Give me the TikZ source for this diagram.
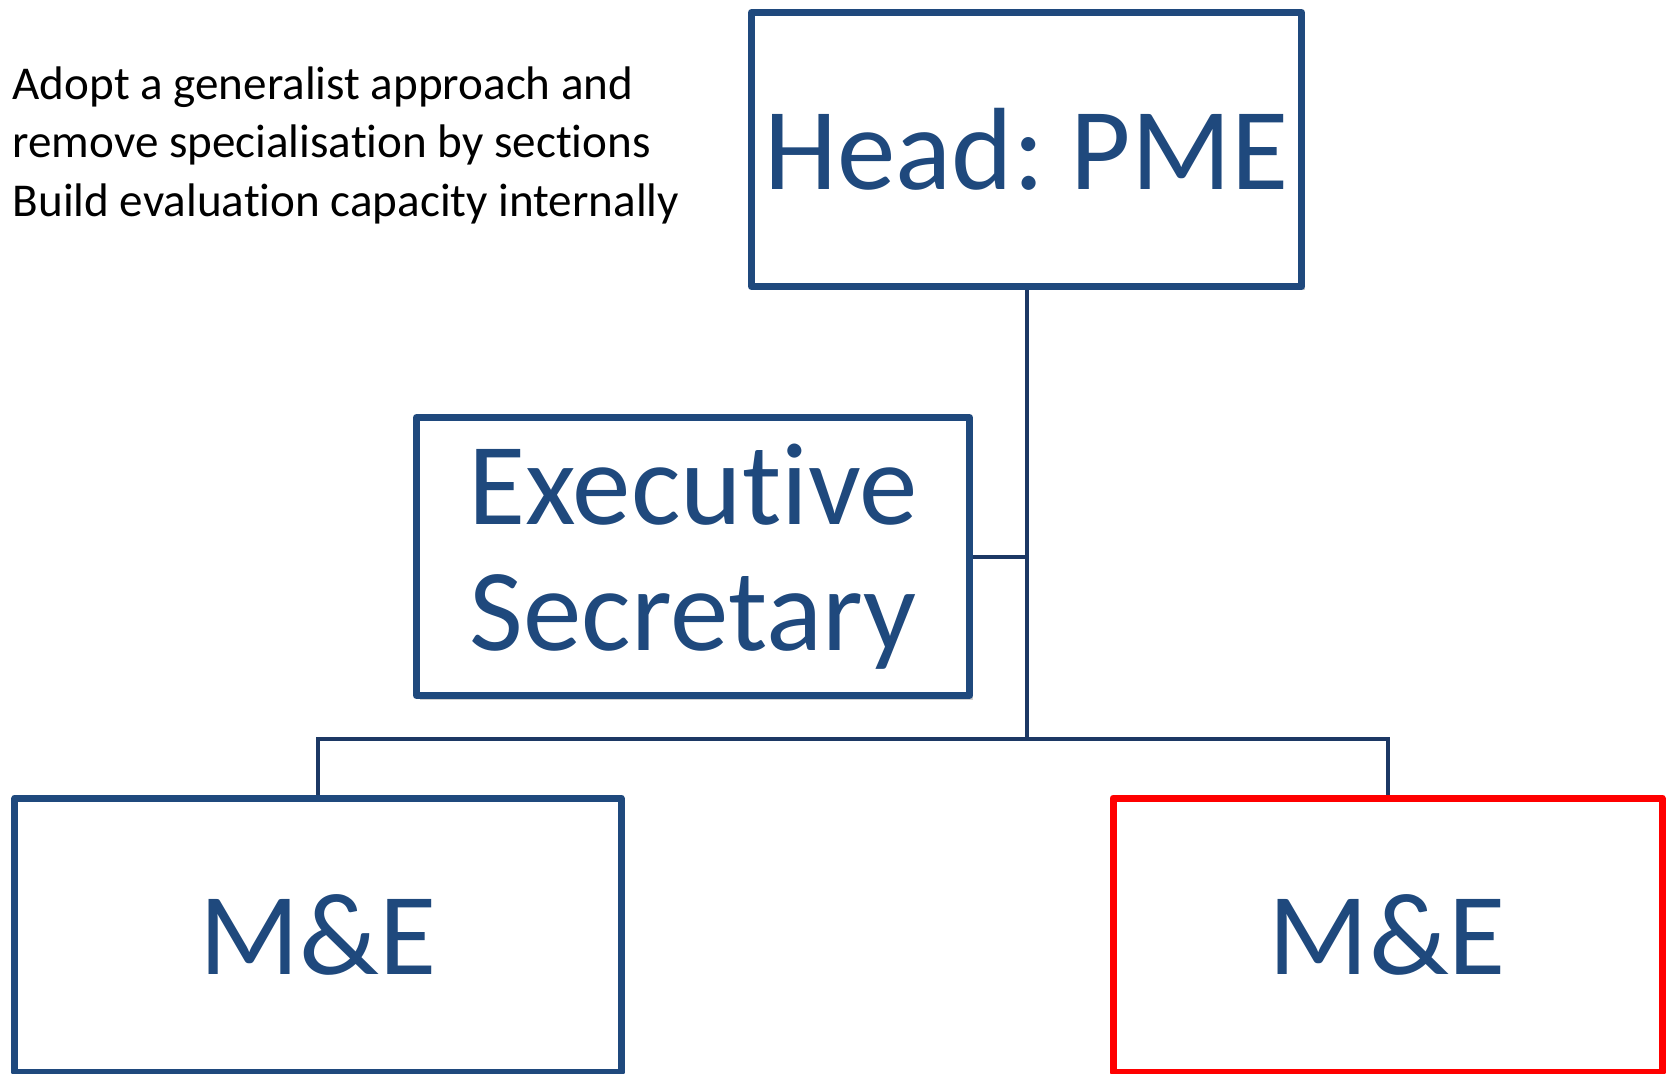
\documentclass[tikz,border=0pt]{standalone}
\usepackage{fontspec}
\setmainfont{Carlito}[Ligatures={NoCommon,NoContextual}]
\usepackage{tikz}
\usetikzlibrary{positioning, shadows, calc}
\frenchspacing
\definecolor{boxblue}{RGB}{31,73,125}
\definecolor{linenavy}{RGB}{28,56,100}
\definecolor{boxred}{RGB}{255,0,0}
\tikzset{
    unit/.style={draw=boxblue, line width=0.07cm, fill=white, rectangle,
        text=boxblue, align=center, line join=round,
        font=\fontsize{33.3}{35.9}\selectfont,
        drop shadow={shadow xshift=0.03cm, shadow yshift=-0.04cm, opacity=0.18, fill=black}},
    redunit/.append style={unit, draw=boxred},
    conn/.style={draw=linenavy, line width=0.04cm},
    note/.style={align=left, anchor=north west, inner sep=0pt,
        font=\fontsize{13.4}{16.6}\selectfont},
}
\begin{document}
\begin{tikzpicture}
    \useasboundingbox (0,0) rectangle (16.71,-10.74);

    \node[unit, minimum width=5.50cm, minimum height=2.74cm] (head) at (10.265,-1.495) {Head: PME};
    \node[unit, minimum width=5.53cm, minimum height=2.78cm] (exec) at (6.93,-5.565) {Executive\\Secretary};
    \node[unit, minimum width=6.06cm, minimum height=2.74cm] (me1) at (3.18,-9.35) {M\&E};
    \node[redunit, minimum width=5.49cm, minimum height=2.74cm] (me2) at (13.875,-9.35) {M\&E};

    \node[note] (aims) at (0.12,-0.66) {Adopt a generalist approach and\\remove specialisation by sections\\Build evaluation capacity internally};

    \coordinate (bus) at ($(head.south)+(0,-4.49)$);
    \draw[conn] (head.south) -- (bus);
    \draw[conn] (exec.east) -- (exec.east -| head.south);
    \draw[conn] (me1.north) |- (bus) -| (me2.north);
\end{tikzpicture}
\end{document}
